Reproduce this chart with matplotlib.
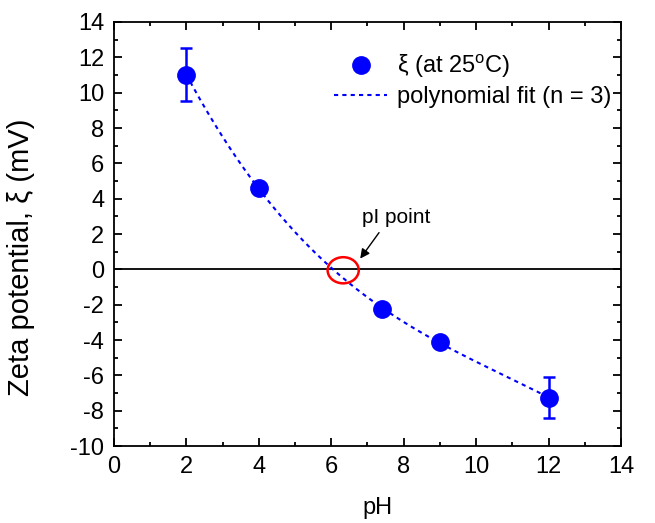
import numpy as np
import matplotlib
matplotlib.use("Agg")
import matplotlib.pyplot as plt
from matplotlib.patches import Ellipse
from matplotlib.ticker import MultipleLocator

plt.rcParams['font.family'] = ['Liberation Sans', 'DejaVu Sans']
plt.rcParams['axes.unicode_minus'] = False
plt.rcParams['mathtext.fontset'] = 'custom'
plt.rcParams['mathtext.rm'] = 'Liberation Sans'

# donnees
ph = np.array([2, 4, 7.4, 9, 12])
zeta = np.array([11.0, 4.6, -2.25, -4.1, -7.25])
err = np.array([1.5, np.nan, np.nan, np.nan, 1.15])
pI = 6.33

# ajustement polynomial d'ordre 3
coef = np.polyfit(ph, zeta, 3)
xfit = np.linspace(ph.min(), ph.max(), 200)
yfit = np.polyval(coef, xfit)

fig, ax = plt.subplots(figsize=(6.55, 5.23), dpi=100)
fig.subplots_adjust(left=0.174, right=0.948, top=0.958, bottom=0.147)

ax.axhline(0, color="black", lw=1.3, zorder=1)
ax.plot(xfit, yfit, color="blue", lw=1.5, ls=(0, (2, 2)), label="polynomial fit (n = 3)", zorder=2)
ax.errorbar(ph, zeta, yerr=err, fmt="none", ecolor="blue", capsize=4,
            elinewidth=1.8, capthick=1.8, zorder=3)
ax.plot(ph, zeta, "o", color="blue", ms=12.5, label="ξ (at 25$^{\\rm o}$C)", zorder=4)

ax.add_patch(Ellipse((pI, -0.05), 0.86, 1.48, fill=False, edgecolor="red", lw=1.8, zorder=5))
ax.annotate("", xy=(6.80, 0.61), xytext=(7.32, 2.08),
            arrowprops=dict(arrowstyle="-|>", color="black", lw=1, mutation_scale=14,
                            shrinkA=0, shrinkB=0))
ax.text(6.85, 2.65, "pI point", fontsize=15, va="baseline", ha="left")

ax.set_xlim(0, 14)
ax.set_ylim(-10, 14)
ax.xaxis.set_major_locator(MultipleLocator(2))
ax.xaxis.set_minor_locator(MultipleLocator(1))
ax.yaxis.set_major_locator(MultipleLocator(2))
ax.yaxis.set_minor_locator(MultipleLocator(1))
ax.tick_params(which="both", direction="in", top=True, right=True, width=1.3)
ax.tick_params(which="major", length=6, labelsize=17)
ax.tick_params(which="minor", length=3)
ax.tick_params(axis="x", pad=7)
ax.tick_params(axis="y", pad=7)
for s in ax.spines.values():
    s.set_linewidth(1.3)

ax.set_xlabel("pH", fontsize=17)
ax.xaxis.set_label_coords(0.52, -0.12)
ax.set_ylabel("Zeta potential, ξ (mV)", fontsize=21)
ax.yaxis.set_label_coords(-0.155, 0.444)

h, l = ax.get_legend_handles_labels()
ax.legend(h[::-1], l[::-1], loc="upper right", bbox_to_anchor=(0.99, 0.94),
          frameon=False, fontsize=17, handlelength=2.25, borderaxespad=0,
          handletextpad=0.4, labelspacing=0.25, borderpad=0.2)

plt.savefig("out.png", dpi=100)
